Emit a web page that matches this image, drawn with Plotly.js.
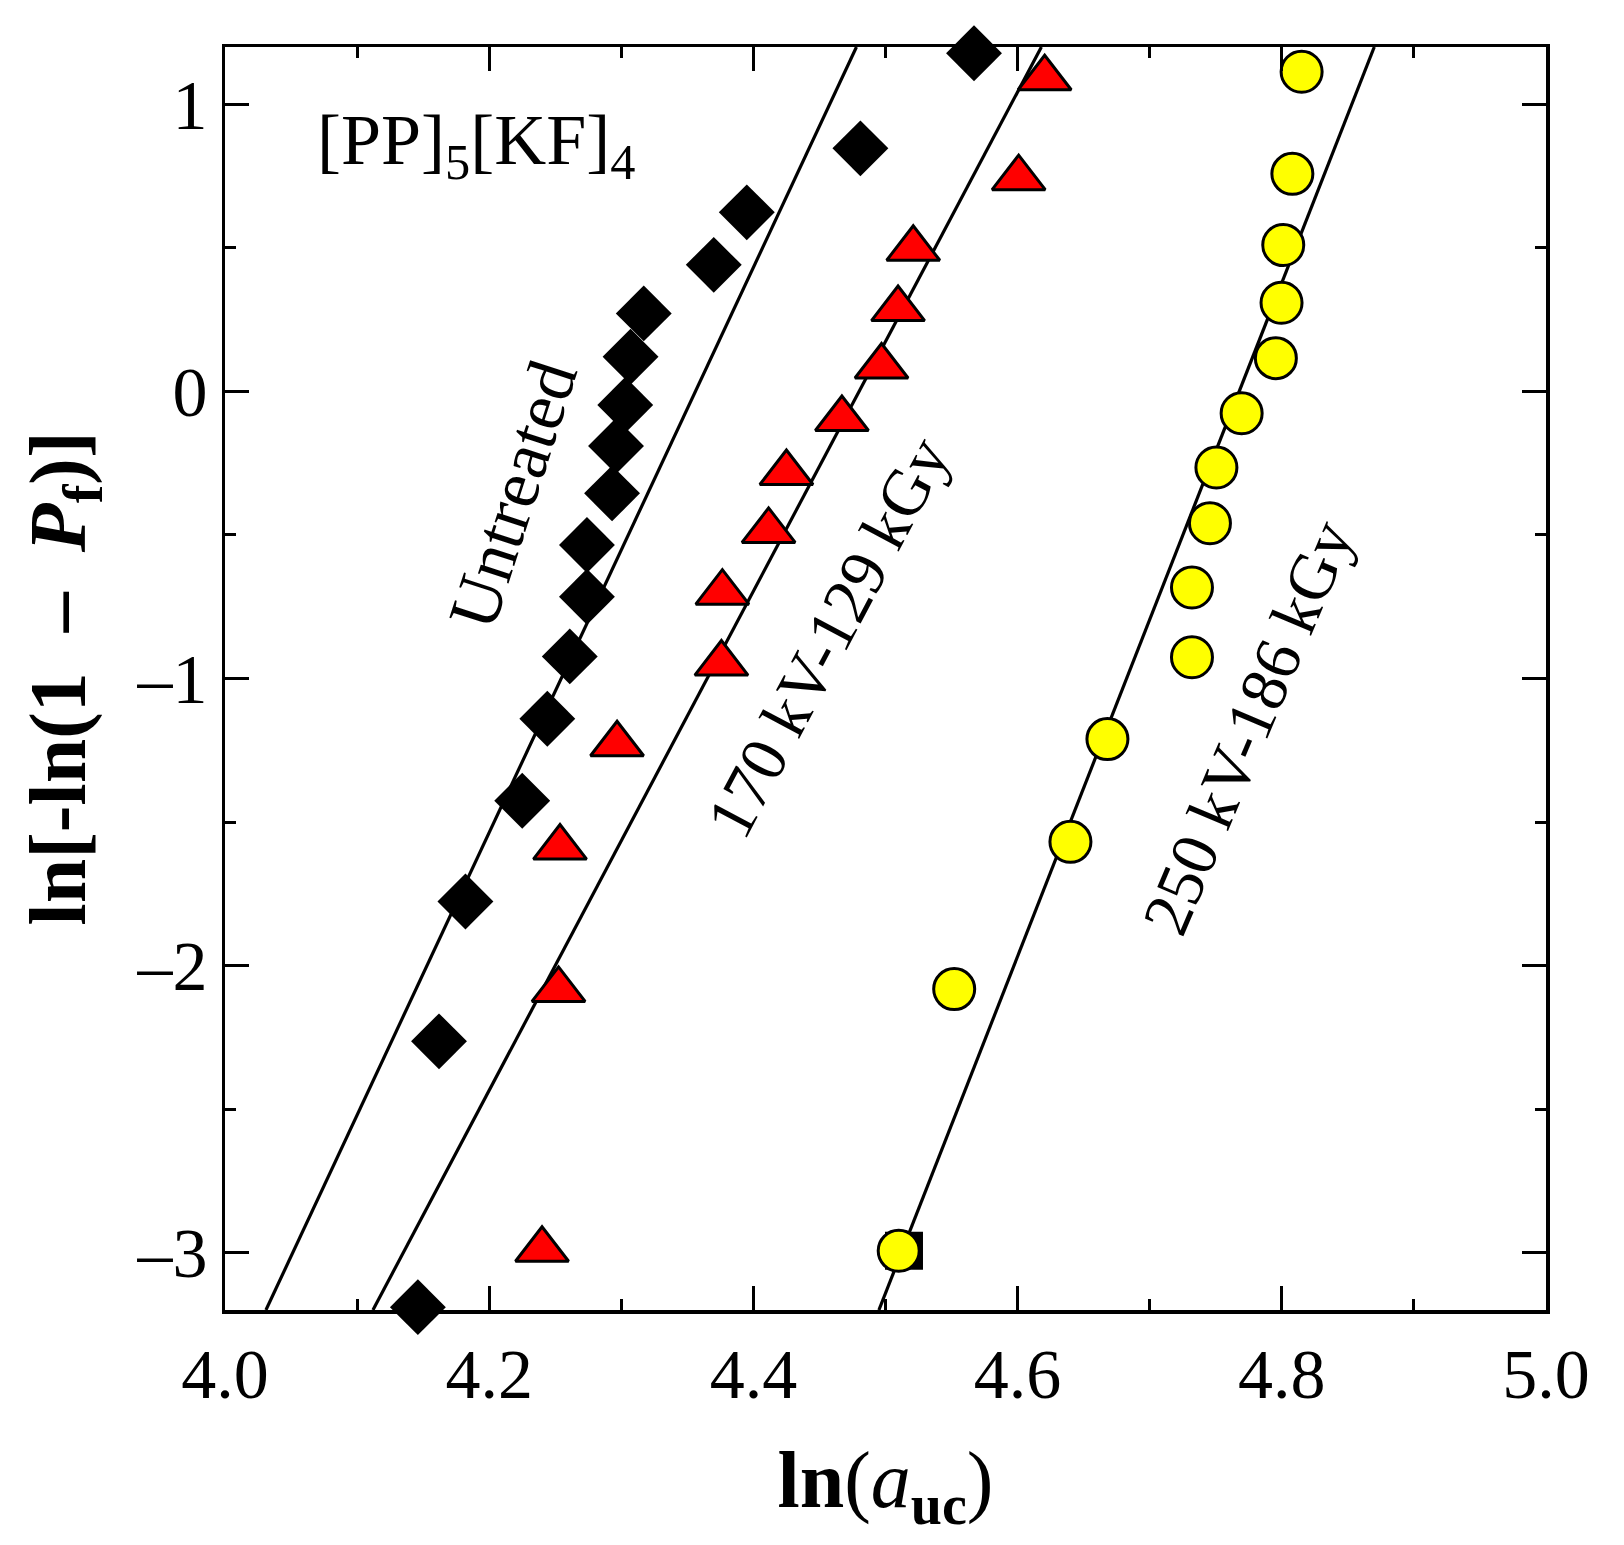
<!DOCTYPE html>
<html>
<head>
<meta charset="utf-8">
<script src="https://cdn.plot.ly/plotly-3.0.1.min.js"></script>
<style>
  html, body { margin: 0; padding: 0; background: #fff; }
  #chart { width: 1624px; height: 1545px; }
</style>
</head>
<body>
<div id="chart"></div>
<script>
// ── Data ─────────────────────────────────────────────────────────────────────
const untreatedX = [4.146, 4.162, 4.182, 4.225, 4.244, 4.261, 4.274, 4.274, 4.293,
                    4.296, 4.303, 4.307, 4.317, 4.370, 4.395, 4.481, 4.567];
const untreatedY = [-3.19, -2.264, -1.777, -1.426, -1.140, -0.923, -0.715, -0.535, -0.355,
                    -0.190, -0.047, 0.121, 0.272, 0.441, 0.624, 0.847, 1.178];

const kv170X = [4.240, 4.2525, 4.2536, 4.2968, 4.3758, 4.3765, 4.4115,
                4.425, 4.467, 4.497, 4.5095, 4.521, 4.6008, 4.6205];
const kv170Y = [-2.99, -2.085, -1.589, -1.229, -0.948, -0.701, -0.486,
                -0.284, -0.096, 0.087, 0.287, 0.497, 0.743, 1.091];

const kv250X = [4.510, 4.552, 4.640, 4.668, 4.732, 4.732, 4.7456,
                4.7505, 4.7696, 4.7955, 4.7998, 4.8011, 4.808, 4.815];
const kv250Y = [-2.994, -2.082, -1.569, -1.211, -0.926, -0.683, -0.459,
                -0.265, -0.076, 0.116, 0.309, 0.510, 0.758, 1.114];

// stray square peeking out behind the lowest yellow circle
const extraX = [4.514];
const extraY = [-2.994];

// fitted lines (end points at the plot edges)
const fitY          = [-3.2, 1.2];
const fitUntreatedX = [4.031, 4.478];
const fit170X       = [4.112, 4.618];
const fit250X       = [4.495, 4.870];

const yTickVals = [-3, -2, -1, 0, 1];
const yTickText = ['–3', '–2', '–1', '0', '1'];

const FONT = 'Liberation Serif, Times New Roman, serif';

// ── Traces ───────────────────────────────────────────────────────────────────
function fitLine(x) {
  return {
    x: x, y: fitY, type: 'scatter', mode: 'lines',
    line: { color: '#000', width: 3.2 },
    hoverinfo: 'skip',
  };
}

const traces = [
  fitLine(fitUntreatedX),
  fitLine(fit170X),
  fitLine(fit250X),
  {
    x: extraX, y: extraY, type: 'scatter', mode: 'markers', cliponaxis: false,
    marker: { symbol: 'square', size: 38, color: '#000' },
  },
  {
    x: untreatedX, y: untreatedY, type: 'scatter', mode: 'markers', cliponaxis: false,
    marker: { symbol: 'diamond', size: 43, color: '#000', line: { width: 0 } },
  },
  {
    x: kv170X, y: kv170Y, type: 'scatter', mode: 'markers', cliponaxis: false,
    marker: { symbol: 'triangle-up', size: 46, color: '#ff0000',
              line: { color: '#000', width: 3 } },
  },
  {
    x: kv250X, y: kv250Y, type: 'scatter', mode: 'markers', cliponaxis: false,
    marker: { symbol: 'circle', size: 41, color: '#ffff00',
              line: { color: '#000', width: 3 } },
  },
];

// ── Layout ───────────────────────────────────────────────────────────────────
const axisCommon = {
  showline: true, linecolor: '#000', linewidth: 3.5, mirror: 'ticks',
  ticks: 'inside', ticklen: 24, tickwidth: 3, tickcolor: '#000',
  showgrid: false, zeroline: false, automargin: false,
  tickfont: { family: FONT, size: 70, color: '#000' },
};

const layout = {
  width: 1624, height: 1545,
  paper_bgcolor: '#fff', plot_bgcolor: '#fff',
  margin: { l: 225, r: 78, t: 47, b: 235, pad: 0 },
  showlegend: false,
  font: { family: FONT, color: '#000' },
  xaxis: Object.assign({}, axisCommon, {
    range: [4.0, 5.0], dtick: 0.2, tick0: 4.0, tickformat: '.1f',
    minor: { dtick: 0.1, ticks: 'inside', ticklen: 11, tickwidth: 3, tickcolor: '#000' },
    title: {
      text: '<b>ln</b><span style="font-weight:normal">(<i>a</i></span><b><sub>uc</sub></b><span style="font-weight:normal">)</span>',
      font: { family: FONT, size: 80, color: '#000' },
      standoff: 40,
    },
  }),
  yaxis: Object.assign({}, axisCommon, {
    range: [-3.2, 1.2], tickvals: yTickVals, ticktext: yTickText,
    minor: { dtick: 0.5, ticks: 'inside', ticklen: 11, tickwidth: 3, tickcolor: '#000' },
    title: {
      text: '<b>ln[-ln(1\u2002–\u2002<i>P</i><sub>f</sub>)]</b>',
      font: { family: FONT, size: 80, color: '#000' },
      standoff: 25,
    },
  }),
  annotations: [
    {
      x: 4.068, y: 0.86, xref: 'x', yref: 'y', xanchor: 'left', yanchor: 'middle',
      text: '[PP]<sub>5</sub>[KF]<sub>4</sub>', showarrow: false,
      font: { family: FONT, size: 72, color: '#000' },
    },
    {
      x: 4.218, y: -0.36, xref: 'x', yref: 'y', textangle: -72, showarrow: false,
      text: 'Untreated',
      font: { family: FONT, size: 70, color: '#000' },
    },
    {
      x: 4.456, y: -0.856, xref: 'x', yref: 'y', textangle: -62, showarrow: false,
      text: '170 kV-129 kGy',
      font: { family: FONT, size: 66, color: '#000' },
    },
    {
      x: 4.774, y: -1.17, xref: 'x', yref: 'y', textangle: -67, showarrow: false,
      text: '250 kV-186 kGy',
      font: { family: FONT, size: 66, color: '#000' },
    },
  ],
};

Plotly.newPlot('chart', traces, layout, { displayModeBar: false, staticPlot: true });
</script>
</body>
</html>
